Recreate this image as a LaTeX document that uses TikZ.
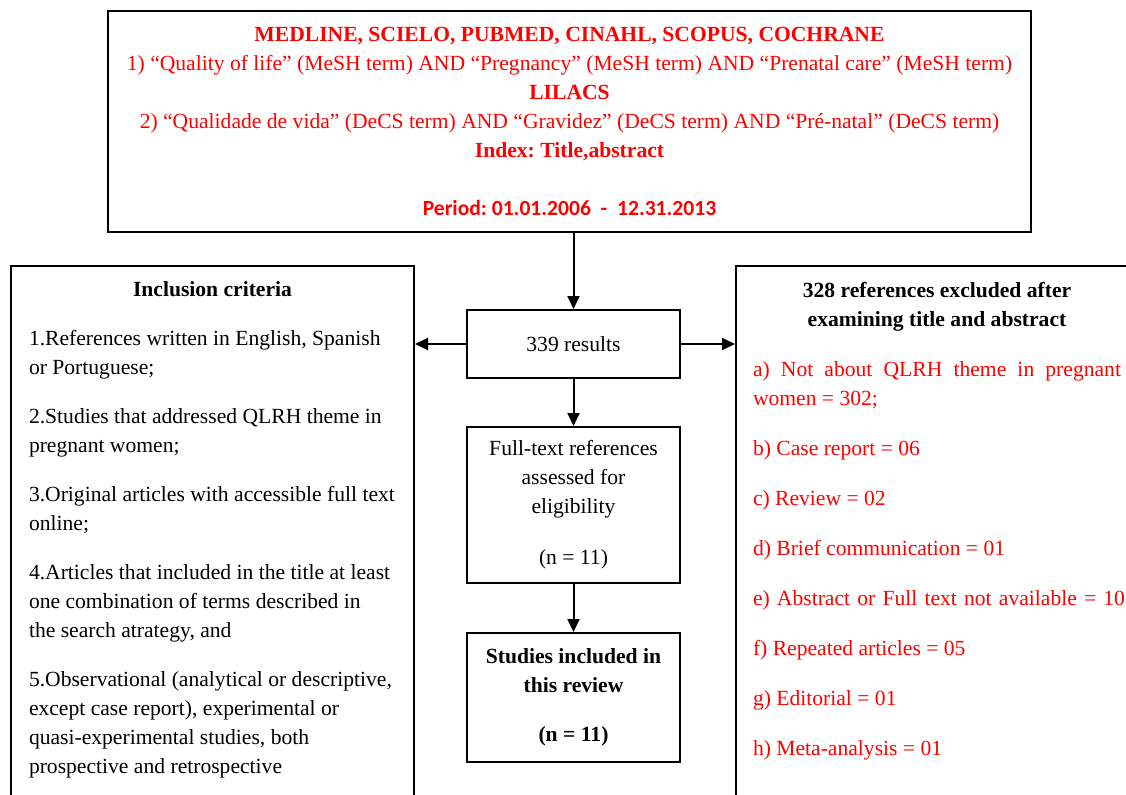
\documentclass[tikz,border=0pt]{standalone}
\usepackage{fontspec}
\setmainfont{Liberation Serif}
\newfontfamily\periodfont{Carlito}
\usetikzlibrary{arrows.meta,positioning}
\newcommand{\fs}{\fontsize{10.8}{14.5}\selectfont}
\frenchspacing

\begin{document}
\begin{tikzpicture}[x=0.5pt,y=-0.5pt,>={Triangle[length=6.5pt,width=6pt]},
  every node/.style={font=\fs},
  box/.style={draw,line width=1pt,inner sep=0pt,align=center},
  midbox/.style={box,minimum width=106.5pt}]
\useasboundingbox (0,0) rectangle (1126,794);

% search strategy
\node[box,text=red,minimum width=461.5pt,minimum height=110.5pt] (search) at (569.5,121.5)
{\textbf{MEDLINE, SCIELO, PUBMED, CINAHL, SCOPUS, COCHRANE}\\
 1) “Quality of life” (MeSH term) AND “Pregnancy” (MeSH term) AND “Prenatal care” (MeSH term)\\
 \textbf{LILACS}\\
 2) “Qualidade de vida” (DeCS term) AND “Gravidez” (DeCS term) AND “Pré-natal” (DeCS term)\\
 \textbf{Index: Title,abstract}\\[14.5pt]
 {\periodfont\bfseries Period: 01.01.2006\ \ -\ \ 12.31.2013}};

% flow in the middle
\node[midbox,minimum height=34pt] (res) at (573.5,344) {339 results};
\node[midbox,minimum height=78pt] (full) at (573.5,505)
{Full-text references\\ assessed for\\ eligibility\\[11pt] (n = 11)};
\node[midbox,minimum height=64.5pt,font=\fs\bfseries] (studies) at (573.5,697.5)
{Studies included in\\ this review\\[10pt] (n = 11)};

% criteria, left
\node[box,anchor=north west,align=flush left,text width=183.5pt,inner xsep=9pt,inner ysep=8pt] (incl) at (10,265)
{\makebox[\linewidth]{\textbf{Inclusion criteria}}\\[10pt]
 \mbox{1.References written in English, Spanish}\\ or Portuguese;\\[10pt]
 \mbox{2.Studies that addressed QLRH theme in}\\ pregnant women;\\[10pt]
 \mbox{3.Original articles with accessible full text}\\ online;\\[10pt]
 \mbox{4.Articles that included in the title at least}\\ \mbox{one combination of terms described in}\\ the search atrategy, and\\[10pt]
 \mbox{5.Observational (analytical or descriptive,}\\ \mbox{except case report), experimental or}\\ \mbox{quasi-experimental studies, both}\\ \mbox{prospective and retrospective}\rule[-30pt]{0pt}{1pt}};

% exclusions, right
\node[box,anchor=north west,align=flush left,text=red,text width=184pt,inner xsep=8.5pt,inner ysep=8pt] (excl) at (735,265)
{\makebox[\linewidth]{\textcolor{black}{\textbf{328 references excluded after}}}\\
 \makebox[\linewidth]{\textcolor{black}{\textbf{examining title and abstract}}}\\[10.5pt]
 \makebox[\linewidth][s]{a) Not about QLRH theme in pregnant}\\ women = 302;\\[10.5pt]
 b) Case report = 06\\[10.5pt]
 c) Review = 02\\[10.5pt]
 d) Brief communication = 01\\[10.5pt]
 \makebox[186pt][s]{e) Abstract or Full text not available = 10}\\[10.5pt]
 f) Repeated articles = 05\\[10.5pt]
 g) Editorial = 01\\[10.5pt]
 h) Meta-analysis = 01\rule[-30pt]{0pt}{1pt}};

\draw[->,line width=1pt] (search.south -| res.north) -- (res.north);
\draw[->,line width=1pt] (res.south) -- (full.north);
\draw[->,line width=1pt] (full.south) -- (studies.north);
\draw[->,line width=1pt] (res.west) -- (res.west -| incl.east);
\draw[->,line width=1pt] (res.east) -- (res.east -| excl.west);
\end{tikzpicture}
\end{document}
